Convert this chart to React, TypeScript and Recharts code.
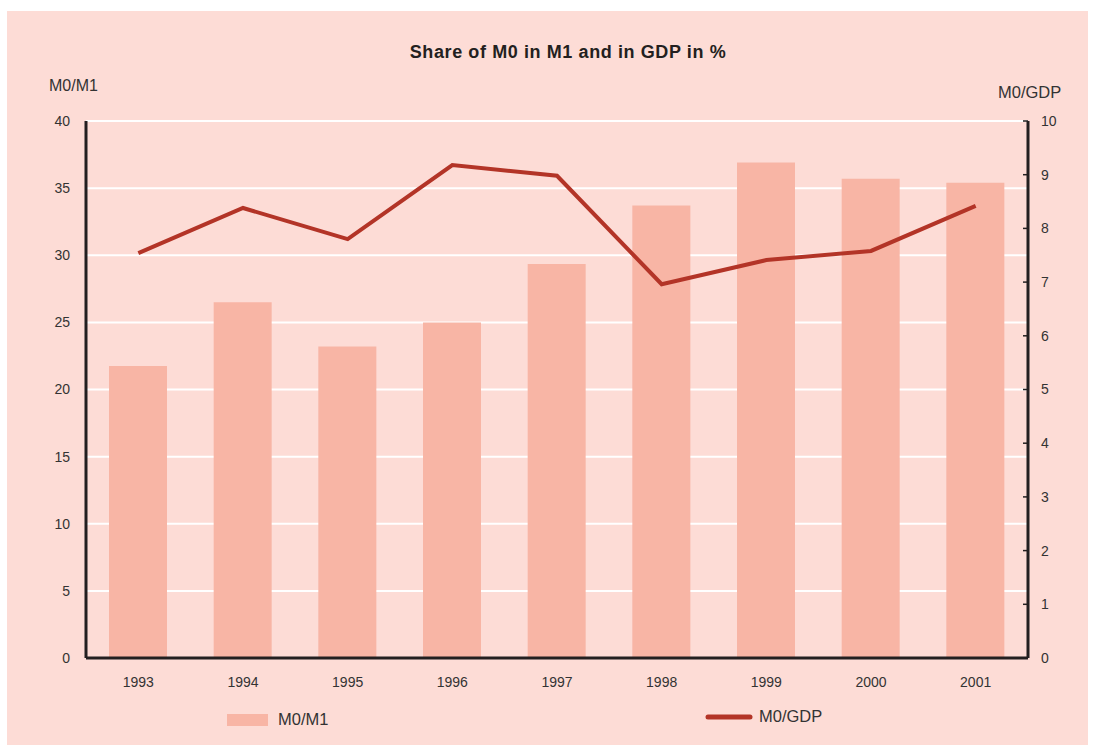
import React from "react";
import {
  ComposedChart,
  Bar,
  Line,
  XAxis,
  YAxis,
  CartesianGrid,
} from "recharts";

const years = ["1993", "1994", "1995", "1996", "1997", "1998", "1999", "2000", "2001"];
const m0m1 = [21.75, 26.5, 23.2, 25.0, 29.35, 33.7, 36.9, 35.7, 35.4];
const m0gdp = [7.54, 8.38, 7.8, 9.18, 8.98, 6.96, 7.41, 7.58, 8.42];
const leftTicks = [0, 5, 10, 15, 20, 25, 30, 35, 40];
const rightTicks = [0, 1, 2, 3, 4, 5, 6, 7, 8, 9, 10];

const data = years.map((y, i) => ({ year: y, m0m1: m0m1[i], m0gdp: m0gdp[i] }));

const BG = "#FDDCD6";
const BAR = "#F8B5A5";
const LINE = "#B33427";
const AXIS = "#231F20";
const TEXT = "#333333";
const FONT = "'Liberation Sans', Arial, sans-serif";

const RightTick = (props: any) => {
  const { x, y, payload } = props;
  return (
    <g>
      <line x1={x - 5} y1={y} x2={x} y2={y} stroke={AXIS} strokeWidth={1.5} />
      <text x={x + 13} y={y} dy="0.35em" textAnchor="start" fill={TEXT} fontSize={14} fontFamily={FONT}>
        {payload.value}
      </text>
    </g>
  );
};

export default function App() {
  return (
    <div style={{ position: "absolute", left: 0, top: 0, width: 1093, height: 745 }}>
      <div style={{ position: "absolute", left: 7, top: 11, width: 1081, height: 734, background: BG }} />
      <div
        style={{
          position: "absolute",
          left: 0,
          width: 1136,
          top: 42,
          textAlign: "center",
          fontFamily: FONT,
          fontWeight: 900,
          fontSize: 18,
          letterSpacing: 0.6,
          color: AXIS,
        }}
      >
        Share of M0 in M1 and in GDP in %
      </div>
      <div style={{ position: "absolute", left: 49, top: 77, fontFamily: FONT, fontSize: 16, color: TEXT }}>M0/M1</div>
      <div style={{ position: "absolute", left: 998, top: 83, fontFamily: FONT, fontSize: 16.5, color: TEXT }}>M0/GDP</div>
      <div style={{ position: "absolute", left: 0, top: 0 }}>
        <ComposedChart
          width={1093}
          height={745}
          data={data}
          margin={{ top: 121, right: 15, bottom: 57, left: 36 }}
          barCategoryGap={0}
        >
          <CartesianGrid vertical={false} stroke="#FFFFFF" strokeWidth={2} yAxisId="left" />
          <XAxis
            dataKey="year"
            height={30}
            axisLine={{ stroke: AXIS, strokeWidth: 3 }}
            tickLine={false}
            tickSize={6}
            tickMargin={13}
            tick={{ fill: TEXT, fontSize: 14, fontFamily: FONT }}
          />
          <YAxis
            yAxisId="left"
            orientation="left"
            width={50}
            domain={[0, 40]}
            ticks={leftTicks}
            axisLine={{ stroke: AXIS, strokeWidth: 3 }}
            tickLine={false}
            tickSize={6}
            tickMargin={10}
            tick={{ fill: TEXT, fontSize: 14, fontFamily: FONT }}
          />
          <YAxis
            yAxisId="right"
            orientation="right"
            width={50}
            domain={[0, 10]}
            ticks={rightTicks}
            axisLine={{ stroke: AXIS, strokeWidth: 3 }}
            tickLine={false}
            tickSize={0}
            tickMargin={0}
            tick={<RightTick />}
          />
          <Bar yAxisId="left" dataKey="m0m1" fill={BAR} barSize={58} isAnimationActive={false} />
          <Line
            yAxisId="right"
            dataKey="m0gdp"
            stroke={LINE}
            strokeWidth={4}
            dot={false}
            activeDot={false}
            type="linear"
            isAnimationActive={false}
          />
        </ComposedChart>
      </div>
      <div style={{ position: "absolute", left: 227, top: 714, width: 41, height: 12, background: BAR }} />
      <div style={{ position: "absolute", left: 278, top: 710, fontFamily: FONT, fontSize: 16.5, color: TEXT }}>M0/M1</div>
      <svg style={{ position: "absolute", left: 700, top: 710 }} width={60} height={14}>
        <line x1={8} y1={7} x2={50} y2={7} stroke={LINE} strokeWidth={5} strokeLinecap="round" />
      </svg>
      <div style={{ position: "absolute", left: 759, top: 707, fontFamily: FONT, fontSize: 16.5, color: TEXT }}>M0/GDP</div>
    </div>
  );
}
